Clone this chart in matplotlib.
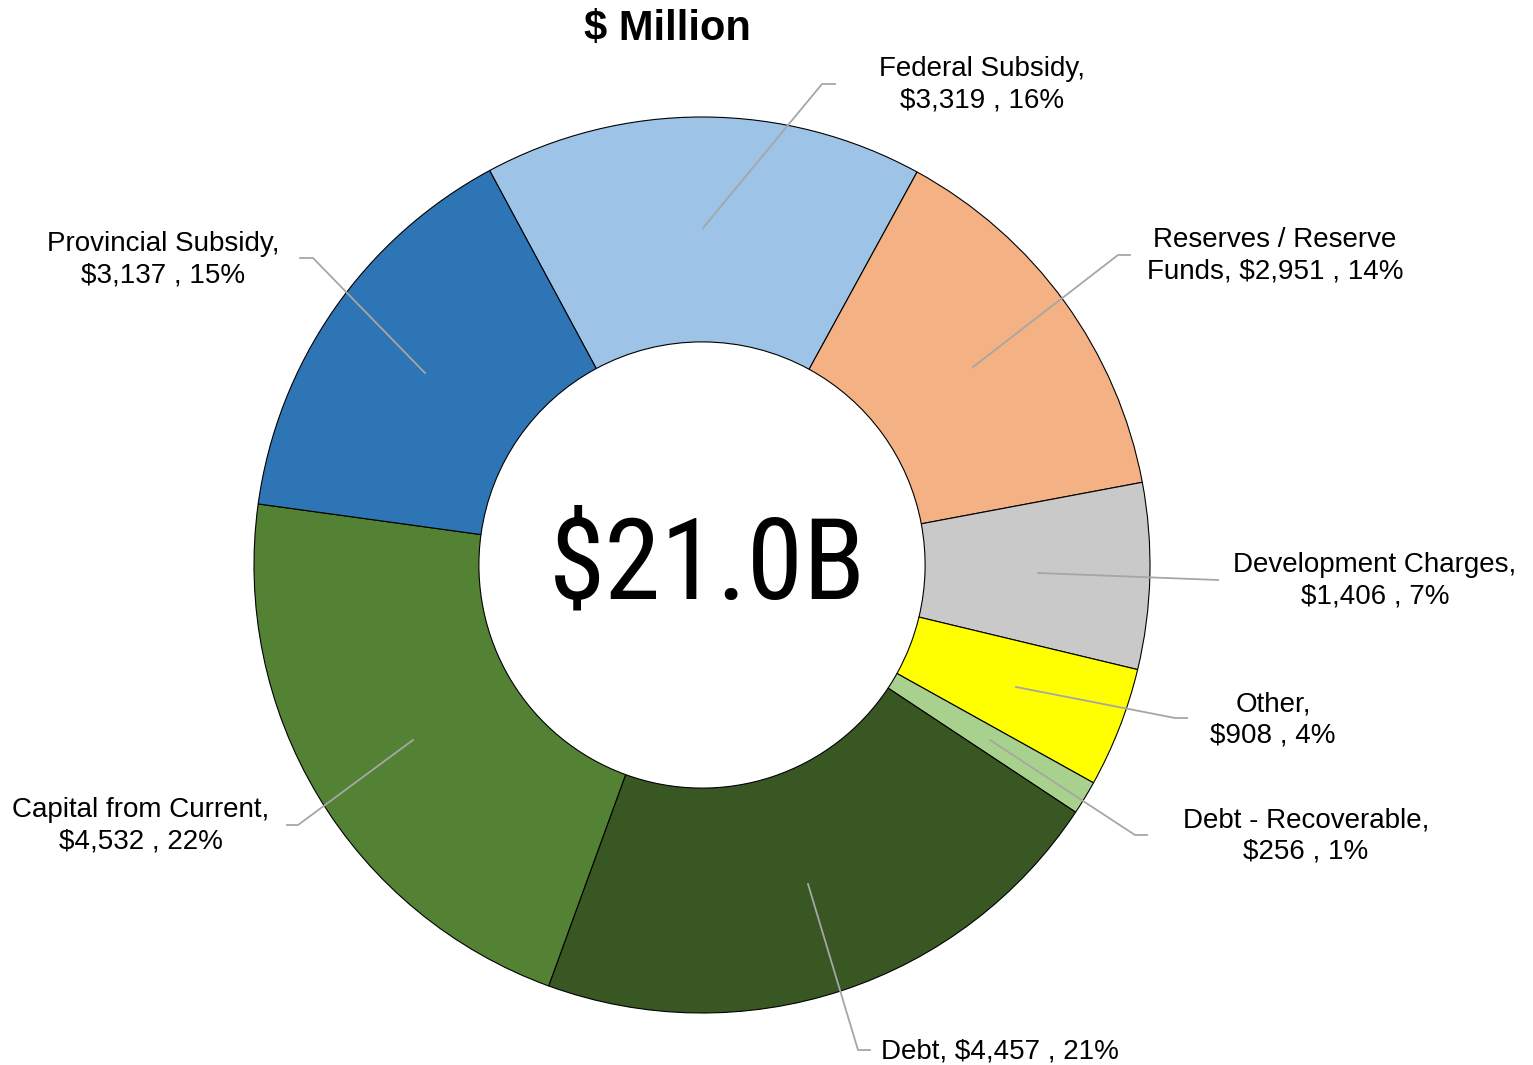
import matplotlib.pyplot as plt
from matplotlib import font_manager

labels = ['Federal Subsidy', 'Reserves / Reserve Funds', 'Development Charges', 'Other',
          'Debt - Recoverable', 'Debt', 'Capital from Current', 'Provincial Subsidy']
values = [3319, 2951, 1406, 908, 256, 4457, 4532, 3137]
pcts = [16, 14, 7, 4, 1, 21, 22, 15]
label_text = [
    'Federal Subsidy,\n$3,319 , 16%',
    'Reserves / Reserve\nFunds, $2,951 , 14%',
    'Development Charges,\n$1,406 , 7%',
    'Other,\n$908 , 4%',
    'Debt - Recoverable,\n$256 , 1%',
    'Debt, $4,457 , 21%',
    'Capital from Current,\n$4,532 , 22%',
    'Provincial Subsidy,\n$3,137 , 15%',
]
colors = ['#9DC3E6', '#F4B183', '#C9C9C9', '#FFFF00', '#A9D18E', '#385723', '#548235', '#2E75B6']

# label placement in pixel space (y measured from top)
text_xy = [(982, 85), (1275, 256), (1375, 581), (1273, 720), (1306, 836), (1000, 1052), (141, 826), (163, 260)]
leaders = [
    [(703, 228), (822, 84), (835, 84)],
    [(973, 367), (1118, 255), (1130, 255)],
    [(1038, 573), (1218, 580)],
    [(1016, 687), (1175, 718), (1187, 718)],
    [(990, 740), (1135, 835), (1147, 835)],
    [(808, 884), (858, 1050), (870, 1050)],
    [(413, 740), (298, 825), (287, 825)],
    [(425, 373), (313, 258), (300, 258)],
]

W, H = 1533, 1065
plt.rcParams['font.family'] = ['Liberation Sans', 'DejaVu Sans']

fig = plt.figure(figsize=(W / 100, H / 100), dpi=100)
ax = fig.add_axes([0, 0, 1, 1])

cx, cy, r = 702, H - 565, 448
ax.pie(values, colors=colors, startangle=118.3, counterclock=False,
       center=(cx, cy), radius=r, frame=True,
       wedgeprops=dict(width=r * 0.502, edgecolor='black', linewidth=0.8))
ax.set_xlim(0, W)
ax.set_ylim(0, H)
ax.axis('off')

for pts in leaders:
    xs = [p[0] for p in pts]
    ys = [H - p[1] for p in pts]
    ax.plot(xs, ys, color='#A6A6A6', linewidth=1.3, zorder=3)

for t, (x, y) in zip(label_text, text_xy):
    ax.text(x, H - y, t, ha='center', va='center', fontsize=20, linespacing=1.27)

ax.text(667, H - 29, '$ Million', ha='center', va='center', fontsize=30, fontweight='bold')

center_font = None
for fam in ['Roboto Condensed', 'Liberation Sans Narrow', 'Arial Narrow']:
    try:
        font_manager.findfont(font_manager.FontProperties(family=fam), fallback_to_default=False)
        center_font = fam
        break
    except Exception:
        pass
if center_font is None:
    center_font = 'Roboto'
ax.text(707, H - 568, '$21.0B', ha='center', va='center', fontsize=82, family=center_font)

fig.savefig('out.png', dpi=100)
